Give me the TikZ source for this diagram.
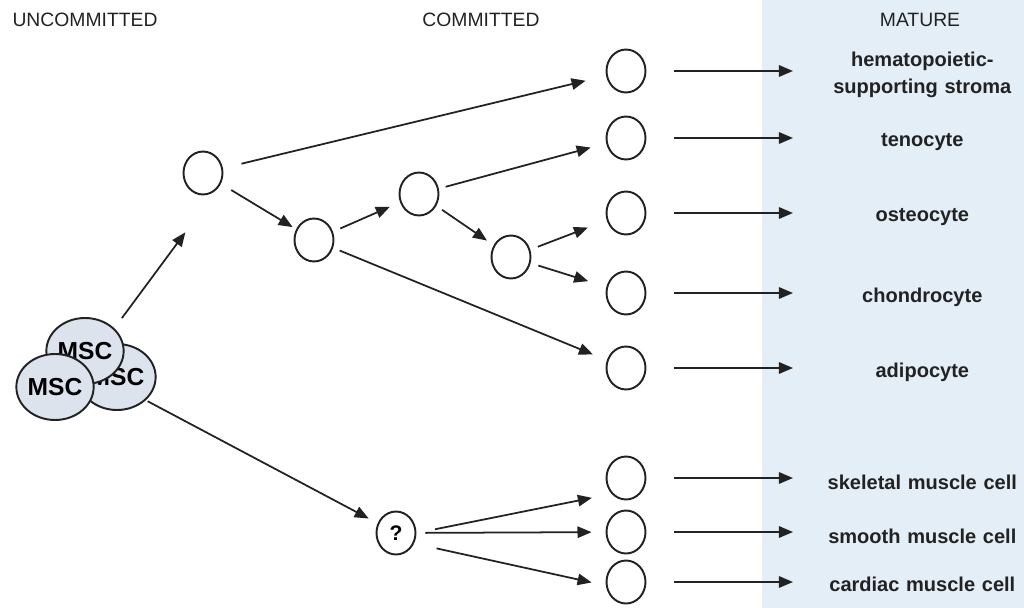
\documentclass[tikz,border=0pt]{standalone}
\usepackage{fontspec}
\setmainfont{Liberation Sans}
\usetikzlibrary{arrows.meta,shapes.geometric}
\definecolor{panelblue}{HTML}{E4EEF6}
\definecolor{cellfill}{HTML}{DCE3ED}
\definecolor{ink}{HTML}{222222}
\begin{document}
\begin{tikzpicture}[x=0.02cm,y=-0.02cm,
  cell/.style={ellipse,draw=ink,line width=1.1pt,minimum width=0.78cm,minimum height=0.86cm,inner sep=0pt},
  msc/.style={cell,fill=cellfill,minimum width=1.2cm,minimum height=1.32cm,font=\fontsize{14}{15}\selectfont\bfseries},
  arr/.style={draw=ink,line width=1pt,-{Triangle[length=8pt,width=6.5pt]}},
  head/.style={font=\fontsize{11}{13}\selectfont,text=ink},
  lbl/.style={anchor=west,text width=4.88cm,align=center,inner sep=0pt,font=\fontsize{11.4}{15.5}\selectfont\bfseries,text=ink}]
\useasboundingbox (0,0) rectangle (1024,608);

% Mature column background
\fill[panelblue] (762,0) rectangle (1024,608);

% Column headings
\node[head] (hUn) at (85,20) {UNCOMMITTED};
\node[head] (hCo) at (481,20) {COMMITTED};
\node[head] (hMa) at (920,20) {MATURE};

% MSC cluster
\node[msc] (mscR) at (117,377) {MSC};
\node[msc] (mscT) at (85,351) {MSC};
\node[msc] (mscL) at (55,387) {MSC};
\coordinate (msc) at (85,368);

% Committed progenitors
\node[cell] (cA) at (203,173) {};
\node[cell] (cB) at (314,240) {};
\node[cell] (cC) at (419,194) {};
\node[cell] (cD) at (511,257) {};
\node[cell,font=\fontsize{12}{13}\selectfont\bfseries] (cQ) at (396,533) {?};

% Mature cells and their labels
\node[cell] (m1) at (626,71) {};
\node[cell] (m2) at (626,138) {};
\node[cell] (m3) at (626,213) {};
\node[cell] (m4) at (626,293) {};
\node[cell] (m5) at (626,368) {};
\node[cell] (m6) at (626,478) {};
\node[cell] (m7) at (626,532) {};
\node[cell] (m8) at (626,582) {};
\node[lbl] (l1) at (800,75) {hematopoietic-\\supporting stroma};
\node[lbl] (l2) at (800,142) {tenocyte};
\node[lbl] (l3) at (800,217) {osteocyte};
\node[lbl] (l4) at (800,297) {chondrocyte};
\node[lbl] (l5) at (800,372) {adipocyte};
\node[lbl] (l6) at (800,482) {skeletal muscle cell};
\node[lbl] (l7) at (800,536) {smooth muscle cell};
\node[lbl] (l8) at (800,584) {cardiac muscle cell};
\foreach \i in {1,...,8}
  \draw[arr,shorten <=0.55cm,shorten >=0.14cm] (m\i) -- (m\i -| l\i.west);

% Lineage arrows
\draw[arr,shorten <=1.24cm,shorten >=1.08cm] (msc) -- (cA.south east);
\draw[arr,shorten <=0.38cm,shorten >=0.42cm] (cA) -- (m1);
\draw[arr,shorten <=0.24cm,shorten >=0.08cm] (cA) -- (cB);
\draw[arr,shorten <=0.16cm,shorten >=0.22cm] (cB) -- (cC);
\draw[arr,shorten <=0.14cm,shorten >=0.30cm] (cB) -- (m5);
\draw[arr,shorten <=0.14cm,shorten >=0.32cm] (cC) -- (m2);
\draw[arr,shorten <=0.14cm,shorten >=0.16cm] (cC) -- (cD);
\draw[arr,shorten <=0.16cm,shorten >=0.40cm] (cD) -- (m3);
\draw[arr,shorten <=0.16cm,shorten >=0.38cm] (cD) -- (m4);

% Muscle branch
\draw[arr,shorten <=1.42cm,shorten >=0.20cm] (msc) -- (cQ);
\draw[arr,shorten <=0.38cm,shorten >=0.40cm] (cQ.east) -- (m6.south west);
\draw[arr,shorten <=0.18cm,shorten >=0.28cm] (cQ) -- (m7);
\draw[arr,shorten <=0.46cm,shorten >=0.29cm] (cQ.330) -- (m8.190);
\end{tikzpicture}
\end{document}
